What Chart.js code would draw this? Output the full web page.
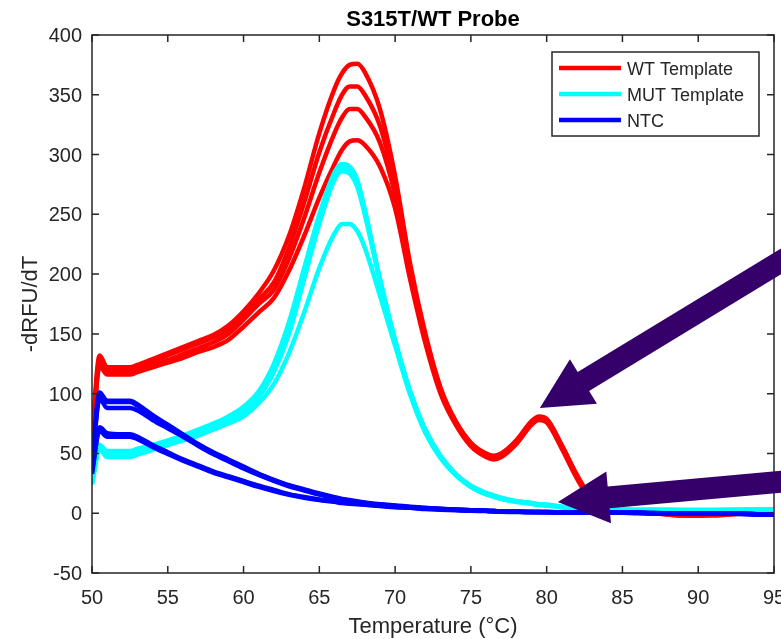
<!DOCTYPE html>
<html>
<head>
<meta charset="utf-8">
<script src="https://cdn.jsdelivr.net/npm/chart.js@4.4.0/dist/chart.umd.min.js"></script>
<style>
  html, body { margin: 0; padding: 0; background: #fff; }
  #wrap { width: 781px; height: 639px; }
</style>
</head>
<body>
<div id="wrap"><canvas id="meltChart" width="781" height="639"></canvas></div>
<script>
// melt curve readings (-dRFU/dT) against temperature
const temps = [50, 50.5, 51, 52, 52.5, 53, 54, 55, 56, 57, 58, 59, 60, 61, 62, 63, 64, 65, 66, 66.5, 67, 67.5, 68, 69, 70, 71, 72, 73, 74, 75, 76, 76.5, 77, 78, 79, 79.5, 80, 81, 82, 83, 84, 85, 86, 87, 88, 89, 90, 91, 92, 93, 94, 95];

const wt1 = [62, 132, 122, 122, 122, 124, 129, 134, 139, 144, 149, 157, 169, 184, 203, 232, 272, 318, 355, 368, 375, 376, 369, 338, 282, 208, 150, 105, 77, 59, 50, 48, 50, 61, 77, 81, 79, 57, 32, 12, 5, 3, 2, 1, 0, -1, -1, -1, 0, 0, 1, 2];
const wt2 = [60, 128, 120, 120, 120, 122, 127, 132, 137, 142, 147, 154, 166, 179, 193, 222, 260, 302, 336, 350, 357, 357, 350, 324, 274, 204, 147, 103, 76, 58, 49, 47, 49, 60, 76, 80, 78, 56, 31, 11, 5, 3, 2, 1, 0, -1, -2, -1, 0, 0, 1, 2];
const wt3 = [58, 125, 118, 117, 117, 119, 124, 128, 133, 138, 143, 150, 162, 175, 187, 213, 247, 285, 318, 331, 338, 338, 332, 310, 266, 200, 145, 102, 75, 57, 48, 46, 48, 59, 75, 79, 77, 55, 30, 11, 4, 2, 1, 0, -1, -2, -2, -1, -1, 0, 1, 3];
const wt4 = [57, 123, 116, 116, 116, 118, 122, 126, 130, 135, 139, 145, 156, 168, 180, 203, 232, 264, 292, 304, 311, 312, 308, 290, 255, 195, 142, 100, 74, 56, 47, 45, 47, 58, 74, 78, 76, 54, 29, 10, 4, 2, 1, 0, -1, -2, -2, -2, -1, 0, 2, 3];

const mut1 = [25, 57, 52, 52, 52, 54, 57, 61, 65, 70, 75, 81, 89, 102, 125, 160, 205, 250, 285, 292, 290, 279, 254, 196, 145, 102, 70, 48, 33, 23, 17, 15, 13, 10, 8.5, 7.5, 7, 5.5, 4.5, 4, 3.5, 3, 3, 3, 3, 3, 3, 3, 3, 3, 3, 3];
const mut2 = [27, 56, 51, 51, 51, 53, 56, 60, 64, 69, 74, 80, 88, 100, 122, 156, 202, 247, 282, 289, 287, 276, 252, 195, 144, 101, 69, 47, 32, 22, 16, 14.5, 12.5, 10, 8.5, 7.5, 7, 5.5, 4.5, 4, 3.5, 3, 3, 3, 3, 2.5, 2.5, 2.5, 3, 3, 3, 3];
const mut3 = [26, 55, 49, 49, 49, 51, 55, 59, 63, 67, 72, 78, 85, 97, 118, 150, 196, 242, 279, 286, 284, 273, 250, 194, 143, 100, 69, 47, 32, 22, 16, 14, 12, 9.5, 8, 7, 6.5, 5, 4, 3.5, 3, 3, 2.5, 2.5, 2.5, 2.5, 2.5, 2.5, 2.5, 3, 3, 3];
const mut4 = [24, 53, 47, 47, 47, 49, 53, 57, 61, 65, 70, 75, 81, 92, 108, 134, 168, 205, 234, 242, 242, 236, 222, 182, 140, 99, 67, 46, 32, 22, 16, 14, 12, 9.5, 8, 7, 6.5, 5, 4, 3.5, 3, 3, 2.5, 2.5, 2.5, 2.5, 2.5, 2.5, 2.5, 3, 3, 3];

const ntc1 = [42, 101, 94, 94, 94, 91, 82, 74, 66, 58, 51, 45, 39, 33, 28, 23.5, 20, 16.5, 13.5, 12, 11, 10, 9, 7.5, 6.5, 5.5, 4.5, 3.5, 3, 2.5, 2, 1.8, 1.5, 1.2, 1, 1, 1, 0.8, 0.8, 0.5, 0.5, 0.5, 0.5, 0.3, 0, 0, 0, 0, -0.5, -0.5, -1, -1];
const ntc2 = [40, 98, 93, 93, 93, 90, 81, 73, 65, 57, 50, 44, 38, 32.5, 27.5, 23, 19.5, 16, 13, 11.5, 10.5, 9.5, 8.5, 7, 6, 5, 4, 3.5, 3, 2.5, 2, 1.8, 1.5, 1.2, 1, 1, 1, 0.8, 0.5, 0.5, 0.5, 0.5, 0.3, 0, 0, 0, -0.3, -0.5, -0.5, -0.5, -1, -1];
const ntc3 = [38, 96, 88, 88, 88, 86, 78, 71, 64, 56.5, 49.5, 43.5, 37.5, 32, 27, 22.5, 19, 15.5, 12.5, 11, 10, 9, 8, 7, 6, 5, 4, 3.5, 3, 2.5, 2, 1.8, 1.5, 1.2, 1, 1, 0.8, 0.8, 0.5, 0.5, 0.5, 0.3, 0.3, 0, 0, 0, -0.3, -0.3, -0.5, -0.5, -0.8, -1];
const ntc4 = [35, 72, 67, 66, 66, 64, 57, 51, 45, 40, 35, 31, 27, 23, 19.5, 16, 13.5, 11.5, 10, 9, 8.5, 8, 7.5, 6.5, 5.5, 4.5, 4, 3.5, 3, 2.5, 2, 1.8, 1.5, 1.2, 1, 1, 1, 0.8, 0.5, 0.5, 0.5, 0.5, 0.3, 0, 0, 0, -0.3, -0.5, -0.5, -0.5, -1, -1];
const ntc5 = [33, 69, 64, 64, 64, 62, 55.5, 49.5, 44, 39, 34, 30, 26, 22, 18.5, 15.5, 13, 11, 9.5, 8.5, 8, 7.5, 7, 6, 5, 4.5, 3.5, 3, 2.5, 2, 1.8, 1.5, 1.2, 1, 1, 0.8, 0.8, 0.5, 0.5, 0.5, 0.3, 0.3, 0, 0, 0, 0, -0.3, -0.5, -0.5, -0.8, -1, -1];

const xTicks = [50, 55, 60, 65, 70, 75, 80, 85, 90, 95];
const yTicks = [-50, 0, 50, 100, 150, 200, 250, 300, 350, 400];

const legendNames = ['WT Template', 'MUT Template', 'NTC'];
const groupColors = ['#ff0000', '#00ffff', '#0000ff'];

// annotation arrows, tip and tail in data units
const arrows = [
    { tail: { x: 96.8, y: 221 }, tip: { x: 79.55, y: 88 } },
    { tail: { x: 96.8, y: 27.8 }, tip: { x: 80.74, y: 9.4 } }
];

const FONT = "'Liberation Sans', Arial, Helvetica, sans-serif";
const INK = '#262626';

function makeSet(values, color) {
    return {
        data: temps.map((t, i) => ({ x: t, y: values[i] })),
        borderColor: color,
        backgroundColor: color,
        borderWidth: 4.5,
        pointRadius: 0,
        fill: false,
        cubicInterpolationMode: 'monotone'
    };
}

// first dataset is painted last, so NTC goes first to sit on top
const datasets = [
    ...[ntc1, ntc2, ntc3, ntc4, ntc5].map(v => makeSet(v, groupColors[2])),
    ...[mut1, mut2, mut3, mut4].map(v => makeSet(v, groupColors[1])),
    ...[wt1, wt2, wt3, wt4].map(v => makeSet(v, groupColors[0]))
];

const whiteBg = {
    id: 'whiteBg',
    beforeDraw(chart) {
        const c = chart.ctx;
        c.save();
        c.fillStyle = '#fff';
        c.fillRect(0, 0, chart.width, chart.height);
        c.restore();
    }
};

function drawArrow(c, tail, tip, shaft, headLen, headHalf) {
    const dx = tip.x - tail.x, dy = tip.y - tail.y;
    const len = Math.hypot(dx, dy);
    const ux = dx / len, uy = dy / len;
    const px = -uy, py = ux;
    const bx = tip.x - ux * headLen, by = tip.y - uy * headLen;
    c.beginPath();
    c.moveTo(tail.x + px * shaft / 2, tail.y + py * shaft / 2);
    c.lineTo(bx + px * shaft / 2, by + py * shaft / 2);
    c.lineTo(bx + px * headHalf, by + py * headHalf);
    c.lineTo(tip.x, tip.y);
    c.lineTo(bx - px * headHalf, by - py * headHalf);
    c.lineTo(bx - px * shaft / 2, by - py * shaft / 2);
    c.lineTo(tail.x - px * shaft / 2, tail.y - py * shaft / 2);
    c.closePath();
    c.fill();
}

const matlabAxes = {
    id: 'matlabAxes',
    afterDraw(chart) {
        const c = chart.ctx;
        const a = chart.chartArea;
        const xs = chart.scales.x, ys = chart.scales.y;
        const tl = 7;
        c.save();

        // box and inward ticks
        c.strokeStyle = INK;
        c.lineWidth = 1.5;
        c.strokeRect(a.left, a.top, a.right - a.left, a.bottom - a.top);
        c.beginPath();
        xTicks.forEach(t => {
            const x = xs.getPixelForValue(t);
            c.moveTo(x, a.bottom); c.lineTo(x, a.bottom - tl);
            c.moveTo(x, a.top); c.lineTo(x, a.top + tl);
        });
        yTicks.forEach(t => {
            const y = ys.getPixelForValue(t);
            c.moveTo(a.left, y); c.lineTo(a.left + tl, y);
            c.moveTo(a.right, y); c.lineTo(a.right - tl, y);
        });
        c.stroke();

        // tick labels
        c.fillStyle = INK;
        c.font = '20px ' + FONT;
        c.textBaseline = 'alphabetic';
        c.textAlign = 'center';
        xTicks.forEach(t => c.fillText(String(t), xs.getPixelForValue(t), a.bottom + 31));
        c.textAlign = 'right';
        yTicks.forEach(t => c.fillText(String(t), a.left - 10, ys.getPixelForValue(t) + 7));

        // axis labels and title
        const midX = (a.left + a.right) / 2;
        c.textAlign = 'center';
        c.font = '22px ' + FONT;
        c.fillText('Temperature (°C)', midX, a.bottom + 60);
        c.save();
        c.translate(a.left - 55, (a.top + a.bottom) / 2);
        c.rotate(-Math.PI / 2);
        c.fillText('-dRFU/dT', 0, 0);
        c.restore();
        c.fillStyle = '#000';
        c.font = 'bold 22px ' + FONT;
        c.fillText('S315T/WT Probe', midX, a.top - 9);

        // legend box
        const lx = a.right - 222, ly = a.top + 17, lw = 207, lh = 84;
        c.fillStyle = '#fff';
        c.fillRect(lx, ly, lw, lh);
        c.strokeStyle = INK;
        c.lineWidth = 1.5;
        c.strokeRect(lx, ly, lw, lh);
        c.font = '18px ' + FONT;
        c.textAlign = 'left';
        legendNames.forEach((name, i) => {
            const y = ly + 16 + i * 26;
            c.strokeStyle = groupColors[i];
            c.lineWidth = 4.5;
            c.beginPath();
            c.moveTo(lx + 7, y); c.lineTo(lx + 69, y);
            c.stroke();
            c.fillStyle = INK;
            c.fillText(name, lx + 75, y + 7);
        });

        // annotation arrows
        c.fillStyle = '#35006a';
        arrows.forEach(ar => {
            const tail = { x: xs.getPixelForValue(ar.tail.x), y: ys.getPixelForValue(ar.tail.y) };
            const tip = { x: xs.getPixelForValue(ar.tip.x), y: ys.getPixelForValue(ar.tip.y) };
            drawArrow(c, tail, tip, 22, 51, 26);
        });
        c.restore();
    }
};

new Chart(document.getElementById('meltChart'), {
    type: 'line',
    data: { datasets: datasets },
    options: {
        responsive: false,
        animation: false,
        devicePixelRatio: 1,
        layout: { padding: { left: 92, right: 7, top: 35, bottom: 66 } },
        plugins: {
            legend: { display: false },
            tooltip: { enabled: false }
        },
        scales: {
            x: { type: 'linear', min: 50, max: 95, display: false },
            y: { type: 'linear', min: -50, max: 400, display: false }
        }
    },
    plugins: [whiteBg, matlabAxes]
});
</script>
</body>
</html>
